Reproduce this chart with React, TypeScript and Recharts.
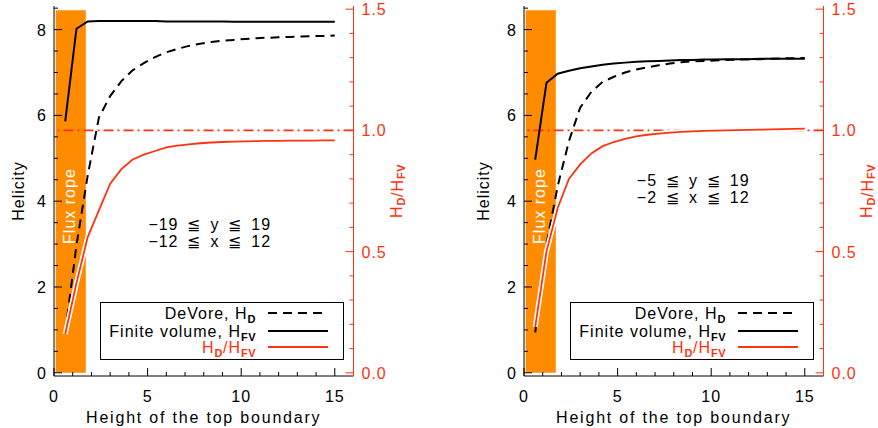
import {
  ComposedChart,
  Line,
  XAxis,
  YAxis,
  ReferenceArea,
  ReferenceLine,
  ReferenceDot,
  Legend,
} from 'recharts'

// heights of the top boundary (x)
const heights = [0.6, 1.2, 1.8, 2.4, 3.0, 3.6, 4.2, 4.8, 5.4, 6.0, 6.6, 7.2, 7.8, 8.4, 9.0, 9.6, 10.2, 10.8, 11.4, 12.0, 12.6, 13.2, 13.8, 14.4, 15.0]

// left panel: -19 <= y <= 19, -12 <= x <= 12
const devoreA = [0.94, 2.97, 4.6, 5.95, 6.45, 6.8, 7.05, 7.22, 7.36, 7.47, 7.55, 7.62, 7.67, 7.71, 7.74, 7.76, 7.78, 7.8, 7.81, 7.82, 7.83, 7.84, 7.85, 7.85, 7.86]
const finiteA = [5.86, 8.02, 8.19, 8.2, 8.2, 8.2, 8.2, 8.2, 8.2, 8.19, 8.19, 8.19, 8.19, 8.19, 8.19, 8.18, 8.18, 8.18, 8.18, 8.18, 8.18, 8.18, 8.18, 8.18, 8.18]
const ratioA = [0.16, 0.37, 0.56, 0.67, 0.78, 0.84, 0.88, 0.9, 0.915, 0.93, 0.937, 0.942, 0.947, 0.95, 0.952, 0.954, 0.955, 0.956, 0.957, 0.957, 0.958, 0.958, 0.958, 0.959, 0.959]

// right panel: -5 <= y <= 19, -2 <= x <= 12
const devoreB = [0.94, 3.0, 4.35, 5.4, 6.18, 6.55, 6.78, 6.9, 7.0, 7.07, 7.12, 7.17, 7.21, 7.24, 7.26, 7.27, 7.28, 7.29, 7.3, 7.31, 7.31, 7.32, 7.33, 7.33, 7.34]
const finiteB = [4.97, 6.76, 6.97, 7.04, 7.1, 7.14, 7.18, 7.21, 7.23, 7.25, 7.26, 7.27, 7.28, 7.29, 7.29, 7.3, 7.3, 7.31, 7.31, 7.31, 7.32, 7.32, 7.32, 7.32, 7.32]
const ratioB = [0.19, 0.5, 0.68, 0.8, 0.86, 0.905, 0.935, 0.952, 0.965, 0.975, 0.982, 0.987, 0.991, 0.994, 0.996, 0.998, 0.999, 1.0, 1.001, 1.002, 1.003, 1.004, 1.005, 1.006, 1.007]

const boxA = ['\u221219 \u2266 y \u2266 19', '\u221212 \u2266 x \u2266 12']
const boxB = ['\u22125 \u2266 y \u2266 19', '\u22122 \u2266 x \u2266 12']

const xTicks = [0, 1, 2, 3, 4, 5, 6, 7, 8, 9, 10, 11, 12, 13, 14, 15]
const xLabels = [0, 5, 10, 15]
const helicityTicks = [0, 0.5, 1, 1.5, 2, 2.5, 3, 3.5, 4, 4.5, 5, 5.5, 6, 6.5, 7, 7.5, 8, 8.5]
const helicityLabels = [0, 2, 4, 6, 8]
const ratioTicks = [0, 0.1, 0.2, 0.3, 0.4, 0.5, 0.6, 0.7, 0.8, 0.9, 1.0, 1.1, 1.2, 1.3, 1.4, 1.5]
const ratioLabels = [0, 0.5, 1.0, 1.5]

const RED = '#ff3311'
const ORANGE = '#ff8c00'
const FONT = "'Liberation Sans', Arial, Helvetica, sans-serif"

type Side = 'bottom' | 'top' | 'left' | 'right'

function makeTick(side: Side, labels: number[], color: string, digits = 0) {
  return (p: any) => {
    const { x, y, payload } = p
    const v = payload.value
    const major = labels.some((l) => Math.abs(l - v) < 1e-6)
    const len = major ? 8 : 4
    const txt = major ? v.toFixed(digits) : null
    const common = { fill: color, fontSize: 16, fontFamily: FONT, letterSpacing: 1 }
    if (side === 'bottom')
      return (
        <g>
          <line x1={x} y1={y} x2={x} y2={y - len} stroke={color} />
          {txt && <text x={x} y={y + 26} textAnchor="middle" {...common}>{txt}</text>}
        </g>
      )
    if (side === 'top')
      return <line x1={x} y1={y} x2={x} y2={y + len} stroke={color} />
    if (side === 'left')
      return (
        <g>
          <line x1={x} y1={y} x2={x + len} y2={y} stroke={color} />
          {txt && <text x={x - 7} y={y + 6} textAnchor="end" {...common}>{txt}</text>}
        </g>
      )
    return (
      <g>
        <line x1={x} y1={y} x2={x - len} y2={y} stroke={color} />
        {txt && <text x={x + 8} y={y + 6} textAnchor="start" {...common}>{txt}</text>}
      </g>
    )
  }
}

function Sub({ children, color }: { children: string; color: string }) {
  return (
    <tspan dy={4} fontSize={11} fontWeight="bold" fill={color} letterSpacing={0.5}>
      {children}
    </tspan>
  )
}

function LegendBox() {
  const rows = [
    { main: 'DeVore, H', sub: 'D', color: '#000', dash: '9 6', w: 2 },
    { main: 'Finite volume, H', sub: 'FV', color: '#000', dash: undefined, w: 2 },
    { main: 'ratio', sub: '', color: RED, dash: undefined, w: 1.8 },
  ]
  const ys = [11, 29, 45]
  return (
    <svg width={244} height={59} style={{ display: 'block' }}>
      <rect x={0.5} y={0.5} width={243} height={57} fill="#fff" stroke="#000" />
      {rows.map((r, i) => (
        <g key={i}>
          <text
            x={156}
            y={ys[i] + 6}
            textAnchor="end"
            fontSize={16}
            fontFamily={FONT}
            letterSpacing={1}
            fill={r.color}
          >
            {r.main === 'ratio' ? (
              <>
                H<Sub color={r.color}>D</Sub>
                <tspan dy={-4}>/H</tspan>
                <Sub color={r.color}>FV</Sub>
              </>
            ) : (
              <>
                {r.main}
                <Sub color={r.color}>{r.sub}</Sub>
              </>
            )}
          </text>
          <line x1={168} x2={228} y1={ys[i]} y2={ys[i]} stroke={r.color} strokeWidth={r.w} strokeDasharray={r.dash} />
        </g>
      ))}
    </svg>
  )
}

interface PanelProps {
  devore: number[]
  finite: number[]
  ratio: number[]
  box: string[]
  boxAt: [number, number]
  width: number
  left: number
  helicityOffset: number
}

function Panel({ devore, finite, ratio, box, boxAt, width, left, helicityOffset }: PanelProps) {
  const data = heights.map((h, i) => ({ h, devore: devore[i], finite: finite[i], ratio: ratio[i] }))
  const rightWidth = width - 54 - 299.5
  return (
    <div style={{ position: 'absolute', left, top: 0 }}>
      <ComposedChart width={width} height={428} data={data} margin={{ top: 6, right: 0, bottom: 0, left: 0 }}>
        <XAxis
          xAxisId="b"
          dataKey="h"
          type="number"
          domain={[0, 16]}
          allowDataOverflow
          ticks={xTicks}
          interval={0}
          height={52}
          tickSize={0}
          tickMargin={0}
          tickLine={false}
          axisLine={{ stroke: '#000' }}
          tick={makeTick('bottom', xLabels, '#000')}
          label={(p: any) => {
            const vb = p.viewBox
            return (
              <text
                x={vb.x + vb.width / 2}
                y={vb.y + 46.5}
                textAnchor="middle"
                fontSize={16}
                fontFamily={FONT}
                letterSpacing={1.8}
              >
                Height of the top boundary
              </text>
            )
          }}
        />
        <XAxis
          xAxisId="t"
          orientation="top"
          dataKey="h"
          type="number"
          domain={[0, 16]}
          allowDataOverflow
          ticks={xTicks}
          interval={0}
          height={0}
          tickSize={0}
          tickMargin={0}
          tickLine={false}
          axisLine={{ stroke: '#000' }}
          tick={makeTick('top', xLabels, '#000')}
        />
        <YAxis
          yAxisId="left"
          type="number"
          domain={[-0.075, 8.55]}
          allowDataOverflow
          ticks={helicityTicks}
          interval={0}
          width={54}
          tickSize={0}
          tickMargin={0}
          tickLine={false}
          axisLine={{ stroke: '#000' }}
          tick={makeTick('left', helicityLabels, '#000')}
          label={(p: any) => {
            const vb = p.viewBox
            const cx = vb.x + helicityOffset
            const cy = vb.y + vb.height / 2
            return (
              <text
                x={cx}
                y={cy}
                transform={`rotate(-90 ${cx} ${cy})`}
                textAnchor="middle"
                dominantBaseline="central"
                fontSize={16}
                fontFamily={FONT}
                letterSpacing={1}
              >
                Helicity
              </text>
            )
          }}
        />
        <YAxis
          yAxisId="right"
          orientation="right"
          type="number"
          domain={[-0.013, 1.513]}
          allowDataOverflow
          ticks={ratioTicks}
          interval={0}
          width={rightWidth}
          tickSize={0}
          tickMargin={0}
          tickLine={false}
          axisLine={{ stroke: RED }}
          tick={makeTick('right', ratioLabels, RED, 1)}
          label={(p: any) => {
            const vb = p.viewBox
            const cx = vb.x + 43
            const cy = vb.y + vb.height / 2
            return (
              <text
                x={cx}
                y={cy}
                transform={`rotate(-90 ${cx} ${cy})`}
                textAnchor="middle"
                dominantBaseline="central"
                fontSize={16}
                fontFamily={FONT}
                letterSpacing={1}
                fill={RED}
              >
                H<Sub color={RED}>D</Sub>
                <tspan dy={-4}>/H</tspan>
                <Sub color={RED}>FV</Sub>
              </text>
            )
          }}
        />
        <ReferenceArea
          xAxisId="b"
          yAxisId="left"
          x1={0.09}
          x2={1.7}
          y1={0}
          y2={8.45}
          fill={ORANGE}
          fillOpacity={1}
          stroke="none"
          label={(p: any) => {
            const vb = p.viewBox
            const cx = vb.x + vb.width / 2 - 1
            const cy = vb.y + vb.height * 0.54
            return (
              <text
                x={cx}
                y={cy}
                transform={`rotate(-90 ${cx} ${cy})`}
                textAnchor="middle"
                dominantBaseline="central"
                fontSize={16}
                fontFamily={FONT}
                letterSpacing={1}
                fill="#fff"
              >
                Flux rope
              </text>
            )
          }}
        />
        <ReferenceLine xAxisId="b" yAxisId="right" y={1} stroke={RED} strokeWidth={1.6} strokeDasharray="10 4 2 4" />
        <Line xAxisId="b" yAxisId="left" dataKey="devore" stroke="#000" strokeWidth={2} strokeDasharray="9 6" dot={false} isAnimationActive={false} />
        <Line xAxisId="b" yAxisId="left" dataKey="finite" stroke="#000" strokeWidth={2} dot={false} isAnimationActive={false} />
        <Line xAxisId="b" yAxisId="right" dataKey="ratio" stroke="#fff" strokeWidth={5} dot={false} isAnimationActive={false} legendType="none" />
        <Line xAxisId="b" yAxisId="right" dataKey="ratio" stroke={RED} strokeWidth={1.8} dot={false} isAnimationActive={false} />
        <ReferenceDot
          xAxisId="b"
          yAxisId="left"
          x={boxAt[0]}
          y={boxAt[1]}
          r={0}
          fill="none"
          stroke="none"
          label={(p: any) => {
            const vb = p.viewBox
            return (
              <g>
                {box.map((s, i) => (
                  <text
                    key={i}
                    x={vb.x}
                    y={vb.y + 6 + i * 16.5}
                    textAnchor="middle"
                    fontSize={16}
                    fontFamily={FONT}
                    letterSpacing={1}
                    wordSpacing={3.5}
                  >
                    {s}
                  </text>
                ))}
              </g>
            )
          }}
        />
        <Legend
          content={() => <LegendBox />}
          layout="horizontal"
          verticalAlign="middle"
          align="center"
          wrapperStyle={{ position: 'absolute', left: 100, top: 302, width: 244, height: 59 }}
        />
      </ComposedChart>
    </div>
  )
}

export default function App() {
  return (
    <div style={{ position: 'absolute', left: 0, top: 0, width: 878, height: 428, overflow: 'hidden', background: '#fff' }}>
      <Panel devore={devoreA} finite={finiteA} ratio={ratioA} box={boxA} boxAt={[8.32, 3.46]} width={439} left={0} helicityOffset={18} />
      <Panel devore={devoreB} finite={finiteB} ratio={ratioB} box={boxB} boxAt={[9.04, 4.49]} width={408.5} left={469.5} helicityOffset={13} />
    </div>
  )
}
